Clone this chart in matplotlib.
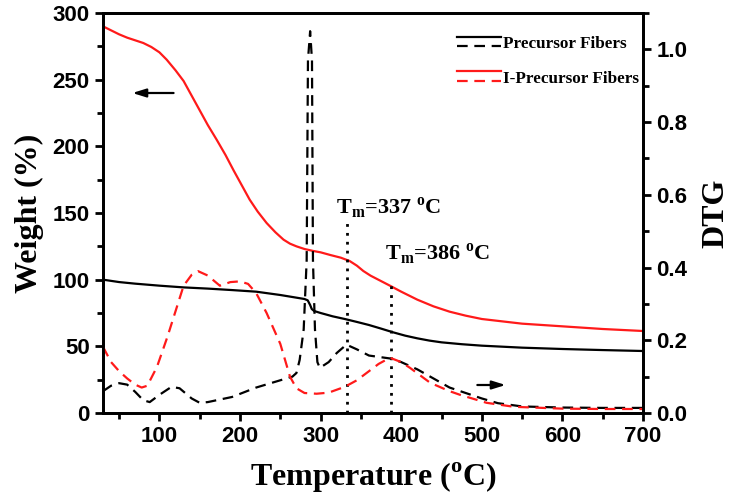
import matplotlib
matplotlib.use("Agg")
import matplotlib.pyplot as plt
from matplotlib.lines import Line2D
from matplotlib.legend_handler import HandlerBase
from matplotlib.ticker import MultipleLocator

# ---------------- data ----------------
T_pw = [30, 50, 70, 100, 130, 160, 190, 220, 250, 270, 280, 284, 287, 289, 292, 300, 315, 330,
        345, 360, 375, 390, 405, 420, 435, 450, 475, 500, 550, 600, 650, 700]
W_pw = [100, 98.2, 97, 95.5, 94.2, 93.3, 92.2, 91, 88.5, 86.5, 85.5, 84.5, 81, 78, 76.5, 75, 72.5, 70.5,
        68.3, 66, 63.3, 60.5, 58, 56, 54.3, 53, 51.6, 50.5, 49, 48, 47.2, 46.5]

T_iw = [30, 40, 50, 60, 70, 80, 90, 100, 109, 120, 130, 140, 150, 160, 171, 182, 192, 202, 212,
        222, 233, 244, 254, 262, 270, 280, 291, 300, 312, 325, 336, 345, 353, 362, 370, 386, 400,
        420, 440, 460, 480, 500, 550, 600, 650, 700]
W_iw = [290, 287, 284, 281.5, 279.5, 277.5, 274.5, 270.5, 265, 257, 249, 238, 227, 216, 205, 193.5,
        182, 171, 160, 151, 142.5, 135.5, 130, 127, 125, 123, 121.5, 120.5, 118.5, 116.5, 114, 110.5,
        106.5, 103, 100.5, 95.5, 91, 85, 80, 76, 73, 70.5, 67, 65, 63, 61.5]

T_pd = [30, 40, 50, 60, 70, 80, 88, 100, 115, 125, 140, 150, 160, 190, 220, 250, 265, 270, 274,
        279, 282.7, 284.3, 287, 289.3, 290.5, 293, 296, 299, 310, 320, 332, 345, 360, 386, 400,
        420, 436, 460, 480, 500, 520, 550, 600, 650, 700]
D_pd = [0.06, 0.075, 0.082, 0.078, 0.058, 0.035, 0.03, 0.05, 0.072, 0.068, 0.04, 0.028, 0.03, 0.044,
        0.07, 0.09, 0.1, 0.11, 0.146, 0.23, 0.42, 0.97, 1.05, 0.97, 0.42, 0.23, 0.14, 0.124, 0.14,
        0.165, 0.188, 0.175, 0.158, 0.15, 0.14, 0.12, 0.1, 0.07, 0.055, 0.04, 0.027, 0.018, 0.015,
        0.014, 0.014]

T_id = [30, 40, 50, 60, 70, 78, 85, 97, 110, 120, 130, 140, 148, 160, 175, 188, 200, 210, 220,
        233, 250, 262, 270, 280, 295, 310, 330, 345, 357, 372, 386, 400, 411, 436, 460, 473, 506,
        540, 600, 650, 700]
D_id = [0.182, 0.14, 0.115, 0.095, 0.078, 0.07, 0.075, 0.127, 0.21, 0.28, 0.35, 0.38, 0.39, 0.378,
        0.35, 0.36, 0.362, 0.355, 0.33, 0.275, 0.19, 0.1, 0.068, 0.055, 0.053, 0.056, 0.072, 0.09,
        0.11, 0.135, 0.152, 0.14, 0.124, 0.083, 0.06, 0.05, 0.028, 0.017, 0.012, 0.011, 0.011]

tm_pos = [332.5, 387]
tm_labels = ["337", "386"]
labels = ["Precursor Fibers", "I-Precursor Fibers"]

RED = "#ff1a1a"
BLK = "#000000"

SERIF = ["Liberation Serif", "DejaVu Serif"]
SANS = ["Liberation Sans", "DejaVu Sans"]

fig = plt.figure(figsize=(7.30, 5.03), dpi=100)
ax = fig.add_axes([103/730, 1-413/503, 540/730, 400/503])
ax2 = ax.twinx()

lw = 1.6
DASH = (0, (4.8, 3.0))
l_ps, = ax.plot(T_pw, W_pw, color=BLK, lw=lw)
l_is, = ax.plot(T_iw, W_iw, color=RED, lw=lw)
l_pd, = ax2.plot(T_pd, D_pd, color=BLK, lw=lw, ls=DASH)
l_id, = ax2.plot(T_id, D_id, color=RED, lw=lw, ls=DASH)

ax.set_xlim(30, 700)
ax.set_ylim(0, 300)
ax2.set_ylim(0, 1.1)

ax.xaxis.set_major_locator(MultipleLocator(100))
ax.xaxis.set_minor_locator(MultipleLocator(50))
ax.yaxis.set_major_locator(MultipleLocator(50))
ax.yaxis.set_minor_locator(MultipleLocator(25))
ax2.yaxis.set_major_locator(MultipleLocator(0.2))
ax2.yaxis.set_minor_locator(MultipleLocator(0.1))
ax2.yaxis.set_major_formatter(plt.FormatStrFormatter("%.1f"))

for a in (ax, ax2):
    for s in a.spines.values():
        s.set_linewidth(2.0)
ax.tick_params(which="both", direction="out", width=2.0, top=False, right=False)
ax.tick_params(which="major", length=6)
ax.tick_params(which="minor", length=4)
ax2.tick_params(which="both", direction="out", width=2.0)
ax2.tick_params(which="major", length=6)
ax2.tick_params(which="minor", length=4)

for lab in ax.get_xticklabels() + ax.get_yticklabels() + ax2.get_yticklabels():
    lab.set_fontfamily(SANS)
    lab.set_fontweight("bold")
    lab.set_fontsize(16)

lblkw = dict(fontfamily=SERIF, fontweight="bold", fontsize=23)
ax.set_xlabel(r"Temperature ($^\mathregular{o}$C)", labelpad=10, **lblkw)
ax.set_ylabel("Weight (%)", labelpad=6, **lblkw)
ax2.set_ylabel("DTG", labelpad=10, **lblkw)

# dotted markers
ax.plot([tm_pos[0]] * 2, [0, 143], color=BLK, lw=2, ls=(0, (1, 2.2)))
ax.plot([tm_pos[1]] * 2, [0, 98], color=BLK, lw=2, ls=(0, (1, 2.2)))
tkw = dict(fontfamily=SERIF, fontweight="bold", fontsize=16, va="baseline", ha="left")
ax.text(319, 150, r"T$_\mathregular{m}$=%s $^\mathregular{o}$C" % tm_labels[0], **tkw)
ax.text(380, 115, r"T$_\mathregular{m}$=%s $^\mathregular{o}$C" % tm_labels[1], **tkw)

# arrows
ax.annotate("", xy=(63, 240), xytext=(121, 240),
            arrowprops=dict(arrowstyle="-|>,head_length=0.8,head_width=0.25", color=BLK, lw=1.6))
ax2.annotate("", xy=(533, 0.077), xytext=(491, 0.077),
             arrowprops=dict(arrowstyle="-|>,head_length=0.8,head_width=0.25", color=BLK, lw=1.6))


class StackHandler(HandlerBase):
    def create_artists(self, legend, orig_handle, xdescent, ydescent, width, height, fontsize, trans):
        solid, dashed = orig_handle
        x0, x1 = -xdescent, -xdescent + width
        y_top = -ydescent + height * 1.0
        y_bot = -ydescent + height * 0.1
        a = Line2D([x0, x1], [y_top, y_top], color=solid.get_color(), lw=solid.get_linewidth())
        b = Line2D([x0, x1], [y_bot, y_bot], color=dashed.get_color(), lw=dashed.get_linewidth(),
                   ls=DASH)
        a.set_transform(trans)
        b.set_transform(trans)
        return [a, b]


leg = ax2.legend(handles=[(l_ps, l_pd), (l_is, l_id)], labels=labels,
                 handler_map={tuple: StackHandler()}, loc="upper left",
                 bbox_to_anchor=(457/730, 1-36/503), bbox_transform=fig.transFigure,
                 frameon=False, borderpad=0, borderaxespad=0, handlelength=2.6,
                 handleheight=0.6, handletextpad=0.1, labelspacing=1.1,
                 prop=dict(family=SERIF, weight="bold", size=12.3))

fig.savefig("out.png", dpi=100)
